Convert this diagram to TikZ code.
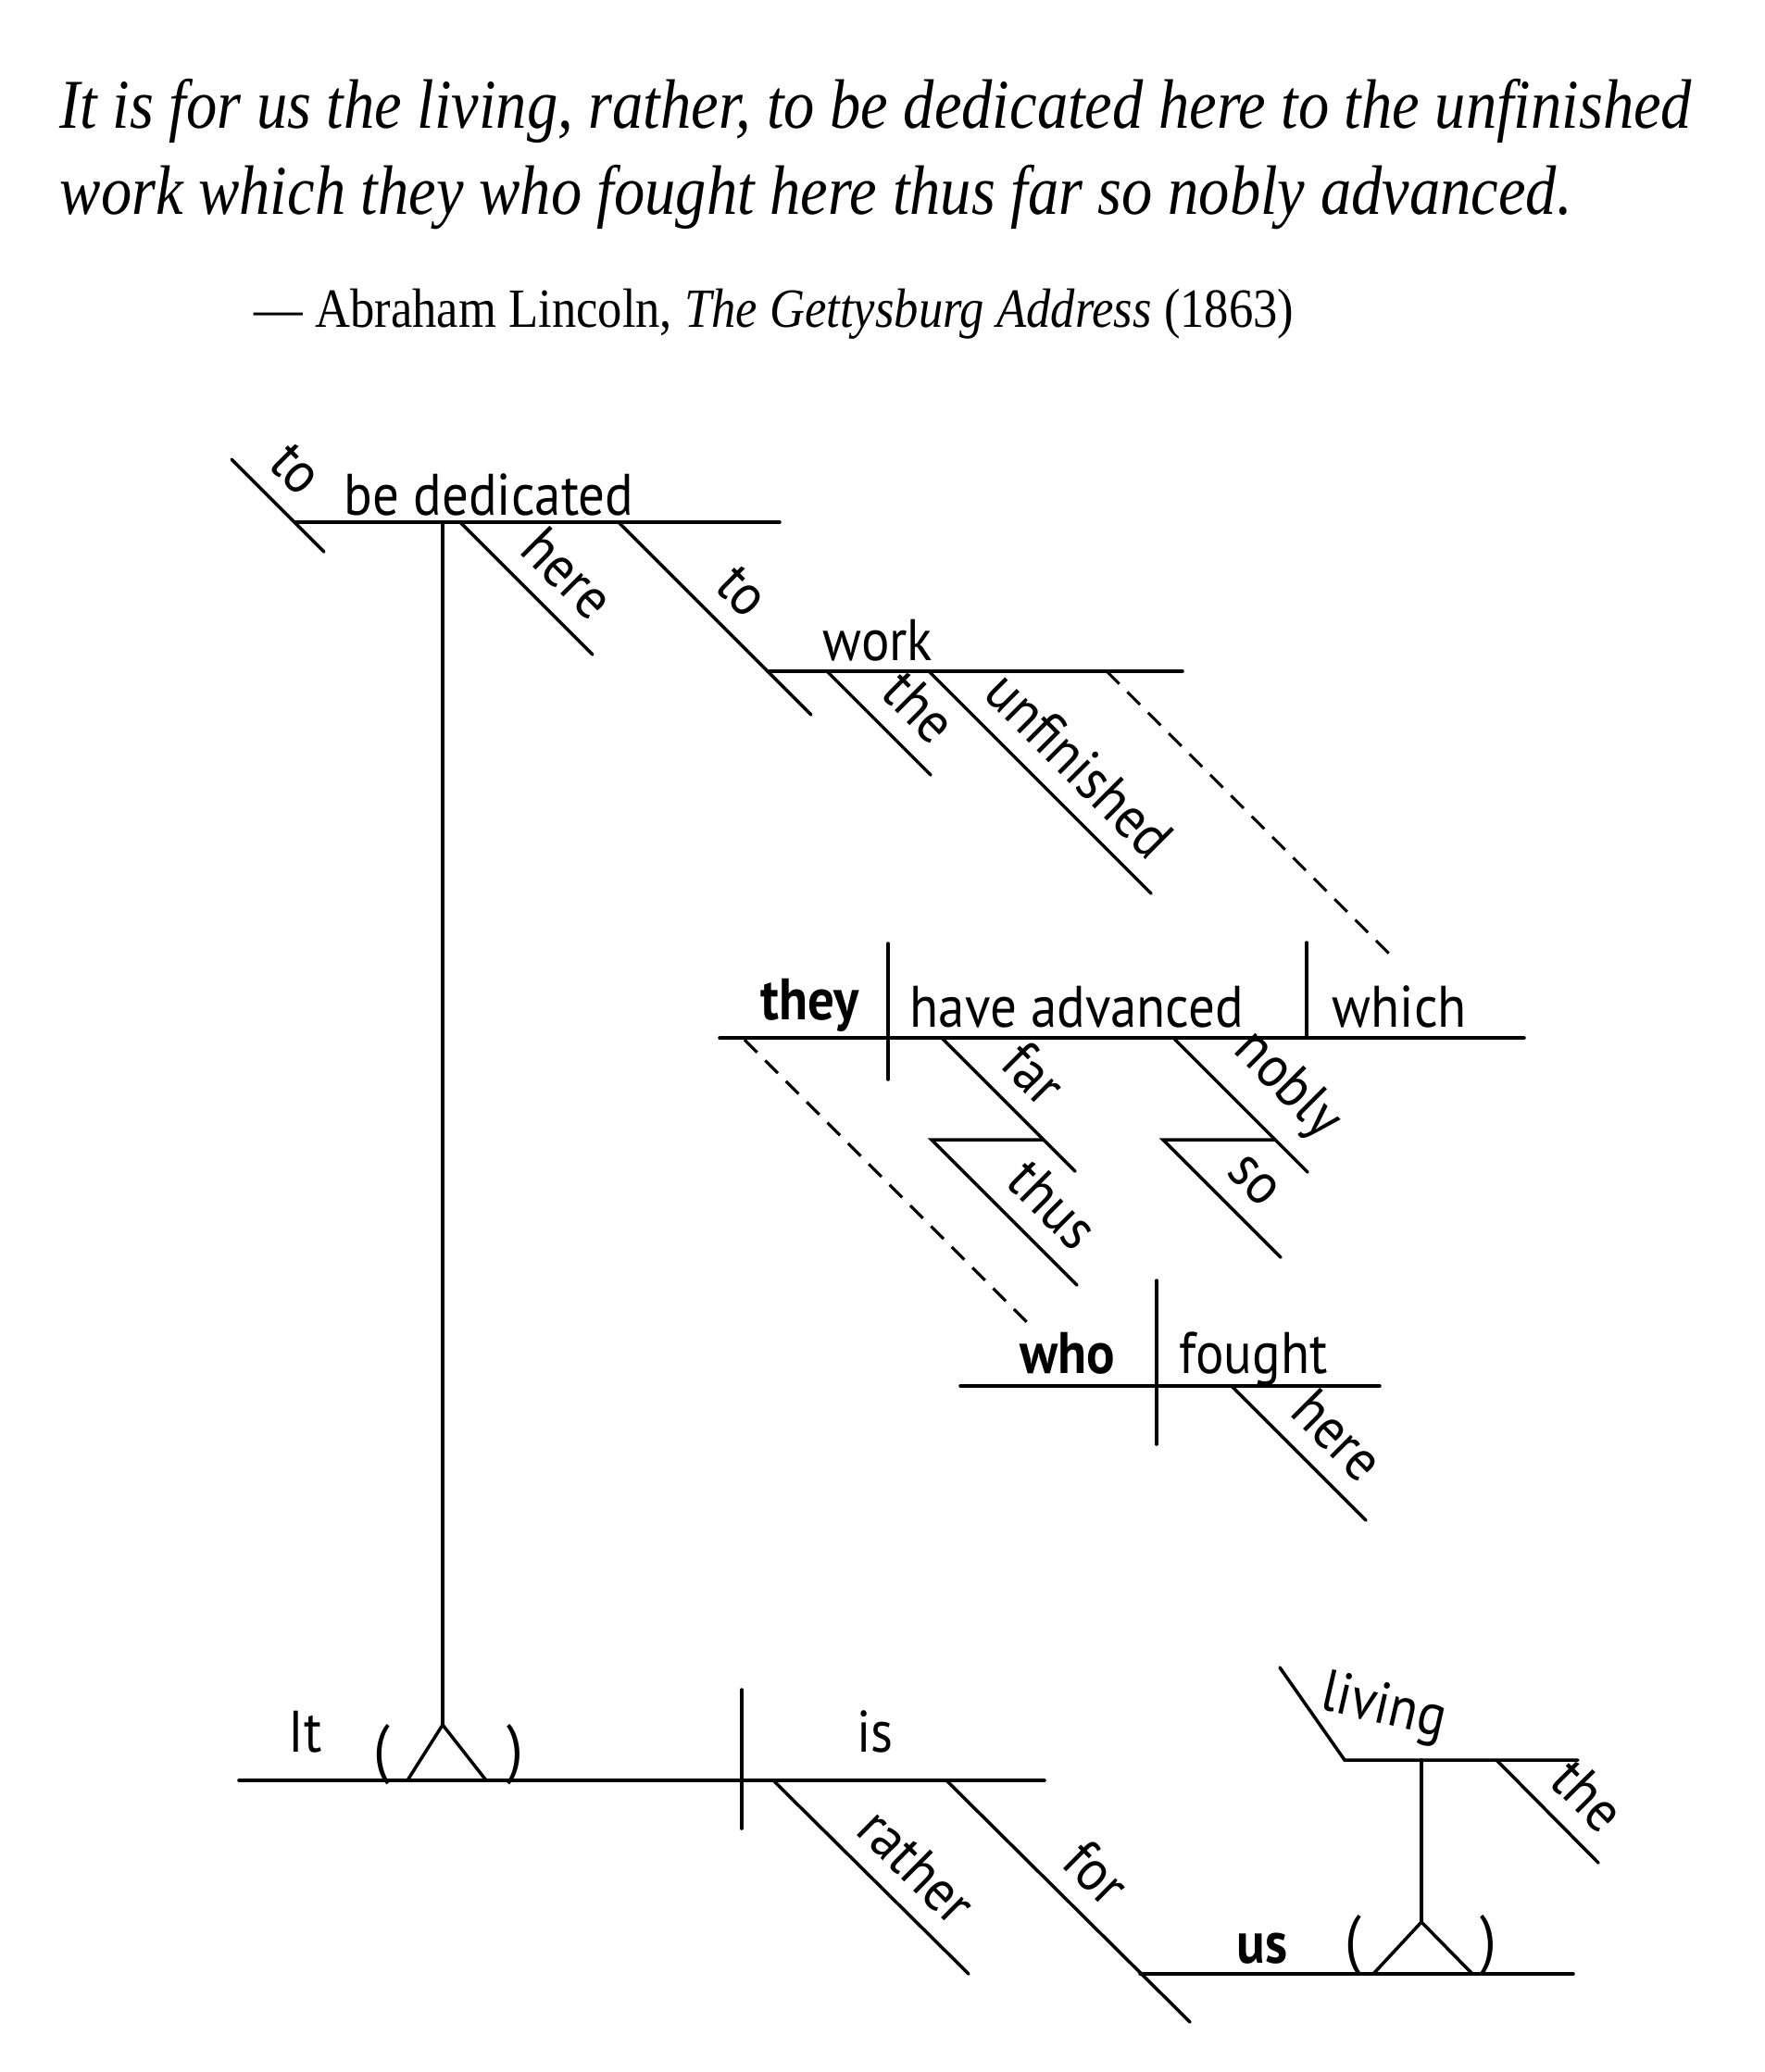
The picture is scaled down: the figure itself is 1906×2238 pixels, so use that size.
\documentclass[tikz,border=0pt]{standalone}
\usepackage{fontspec}
\newfontfamily\quotefont[FakeStretch=0.88]{Liberation Serif}
\newfontfamily\wordfont[FakeStretch=0.9]{PT Sans}
\usetikzlibrary{positioning,calc}

\begin{document}
\begin{tikzpicture}[x=0.01cm, y=-0.01cm,
  word/.style={font=\wordfont\fontsize{18}{20}\selectfont, inner sep=0pt, anchor=base west},
  pron/.style={word, font=\wordfont\bfseries\fontsize{18}{20}\selectfont},
  paren/.style={font=\wordfont\fontsize{20}{22}\selectfont, inner sep=0pt, anchor=center},
  lbl/.style={font=\wordfont\fontsize{18}{20}\selectfont, sloped, above, inner sep=5.5pt},
  dline/.style={line width=1pt, line cap=round},
  dashline/.style={line width=0.9pt, dash pattern=on 5.5pt off 3.5pt},
  quote/.style={font=\quotefont\itshape\fontsize{21.5}{26}\selectfont, anchor=base west, inner sep=0pt},
  cite/.style={font=\quotefont\fontsize{17}{20}\selectfont, anchor=base west, inner sep=0pt}
]
  \useasboundingbox (0,0) rectangle (1906,2238);

  \node[quote] (q1) at (64,138) {It is for us the living, rather, to be dedicated here to the unfinished};
  \node[quote] (q2) at (64,231) {work which they who fought here thus far so nobly advanced.};
  \node[cite] (src) at (274,353) {— Abraham Lincoln, \textit{The Gettysburg Address} (1863)};

  % to be dedicated here to the unfinished work
  \draw[dline] (250,496) -- node[lbl, pos=0.4] (to1) {to} (350,596);
  \draw[dline] (318,564) -- (842,564);
  \node[word] (bd) at (371,556) {be dedicated};
  \draw[dline] (497,564) -- node[lbl, pos=0.6] (here1) {here} (640,707);
  \draw[dline] (668,564) -- node[lbl, pos=0.5] (to2) {to} (876,772);
  \draw[dline] (829,725) -- (1277,725);
  \node[word] (work) at (888,713) {work};
  \draw[dline] (893,725) -- node[lbl, pos=0.62] (the1) {the} (1005,837);
  \draw[dline] (1003,725) -- node[lbl, pos=0.55] (unf) {unfinished} (1243,965);
  \draw[dashline] (1195,725) -- (1503,1033);

  % they have advanced which
  \draw[dline] (777,1121) -- (1646,1121);
  \draw[dline] (959,1019) -- (959,1166);
  \draw[dline] (1411,1018) -- (1411,1121);
  \node[pron] (they) at (821,1101) {they};
  \node[word] (adv) at (982,1109) {have advanced};
  \node[word] (which) at (1438,1109) {which};
  \draw[dline] (1017,1121) -- node[lbl, pos=0.48] (far) {far} (1161,1265);
  \draw[dline] (1127,1231) -- (1006,1231) -- node[lbl, pos=0.64] (thus) {thus} (1163,1388);
  \draw[dline] (1267,1121) -- node[lbl, pos=0.6] (nobly) {nobly} (1412,1266);
  \draw[dline] (1377,1231) -- (1256,1231) -- node[lbl, pos=0.56] (so) {so} (1383,1358);
  \draw[dashline] (804,1123) -- (1112,1431);

  % who fought here
  \draw[dline] (1037,1497) -- (1490,1497);
  \draw[dline] (1249,1383) -- (1249,1560);
  \node[pron] (who) at (1101,1483) {who};
  \node[word] (fought) at (1273,1483) {fought};
  \draw[dline] (1330,1497) -- node[lbl, pos=0.58] (here2) {here} (1475,1642);

  % It is rather for us
  \draw[dline] (258,1923) -- (1128,1923);
  \draw[dline] (478,564) -- (478,1863);
  \draw[dline] (440,1923) -- (478,1863) -- (525,1923);
  \node[paren] (lp1) at (412,1895) {(};
  \node[paren] (rp1) at (556,1895) {)};
  \node[word] (it) at (311,1892) {It};
  \draw[dline] (801,1825) -- (801,1975);
  \node[word] (is) at (925,1892) {is};
  \draw[dline] (835,1923) -- node[lbl, pos=0.59] (rather) {rather} (1046,2132);
  \draw[dline] (1022,1923) -- node[lbl, pos=0.5] (for) {for} (1285,2184);
  \draw[dline] (1231,2132) -- (1699,2132);
  \node[pron] (us) at (1335,2120) {us};
  \draw[dline] (1483,2132) -- (1535,2076) -- (1590,2132);
  \node[paren] (lp2) at (1461,2101) {(};
  \node[paren] (rp2) at (1607,2101) {)};
  \draw[dline] (1535,1901) -- (1535,2076);
  \draw[dline] (1382,1801) -- (1452,1901) -- (1704,1901);
  \node[word, anchor=center, rotate=-13] (living) at (1494,1846) {living};
  \draw[dline] (1616,1901) -- node[lbl, pos=0.62] (the2) {the} (1726,2012);
\end{tikzpicture}
\end{document}
